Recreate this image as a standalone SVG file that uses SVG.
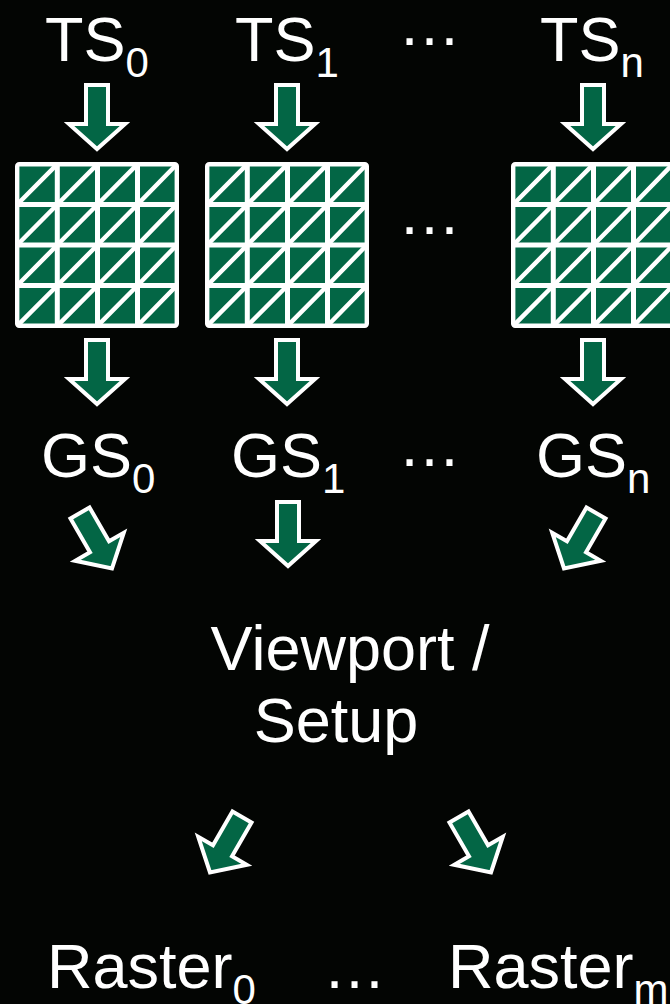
<svg xmlns="http://www.w3.org/2000/svg" xmlns:xlink="http://www.w3.org/1999/xlink" width="670" height="1004" viewBox="0 0 670 1004">
<style>
.t{fill:#ffffff;font-family:"Liberation Sans",Arial,sans-serif;font-size:63px}
.sub{font-size:42px}
.arr{fill:#036645;stroke:#ffffff;stroke-width:4;stroke-linejoin:miter}
.cell{fill:#036645;stroke:#ffffff;stroke-width:4.4}
.gl{fill:none;stroke:#ffffff;stroke-width:5}
.dg{fill:none;stroke:#ffffff;stroke-width:4.5}
</style>
<defs>
<path id="arrow" class="arr" d="M-11,0 H11 V39 H28 L0,64 L-28,39 H-11 Z"/>
<g id="gridShape">
<rect x="2.2" y="2.2" width="159.6" height="161.6" rx="2" fill="#036645"/>
<path class="dg" d="M2.2 42.5 L42.3 2.2 M42.3 42.5 L82.5 2.2 M82.5 42.5 L122.5 2.2 M122.5 42.5 L161.8 2.2 M2.2 83 L42.3 42.5 M42.3 83 L82.5 42.5 M82.5 83 L122.5 42.5 M122.5 83 L161.8 42.5 M2.2 123.5 L42.3 83 M42.3 123.5 L82.5 83 M82.5 123.5 L122.5 83 M122.5 123.5 L161.8 83 M2.2 163.8 L42.3 123.5 M42.3 163.8 L82.5 123.5 M82.5 163.8 L122.5 123.5 M122.5 163.8 L161.8 123.5"/>
<path class="gl" d="M42.3 2 V164 M82.5 2 V164 M122.5 2 V164 M2 42.5 H162 M2 83 H162 M2 123.5 H162"/>
<rect x="2.2" y="2.2" width="159.6" height="161.6" rx="2" fill="none" stroke="#ffffff" stroke-width="4.4"/>
</g>
</defs>
<rect width="670" height="1004" fill="#030503"/>

<g id="ts0"><text class="t" x="45" y="61">TS<tspan class="sub" dy="16">0</tspan></text></g>
<g id="ts1"><text class="t" x="235" y="61">TS<tspan class="sub" dy="16">1</tspan></text></g>
<g id="tsdots"><text class="t" x="398" y="45">…</text></g>
<g id="tsn"><text class="t" x="540" y="61">TS<tspan class="sub" dy="16">n</tspan></text></g>

<g id="grid0"><use xlink:href="#gridShape" transform="translate(15,162)"/></g>
<g id="grid1"><use xlink:href="#gridShape" transform="translate(205,162)"/></g>
<g id="griddots"><text class="t" x="398" y="234">…</text></g>
<g id="gridn"><use xlink:href="#gridShape" transform="translate(511,162)"/></g>

<g id="gs0"><text class="t" x="41" y="477">GS<tspan class="sub" dy="16">0</tspan></text></g>
<g id="gs1"><text class="t" x="231" y="477">GS<tspan class="sub" dy="16">1</tspan></text></g>
<g id="gsdots"><text class="t" x="398" y="466">…</text></g>
<g id="gsn"><text class="t" x="536" y="477">GS<tspan class="sub" dy="16">n</tspan></text></g>

<g id="viewport"><text class="t" x="350" y="670" text-anchor="middle">Viewport /</text><text class="t" x="336" y="742" text-anchor="middle">Setup</text></g>

<g id="raster0"><text class="t" x="47" y="988">Raster<tspan class="sub" dy="16">0</tspan></text></g>
<g id="rasterdots"><text class="t" x="323" y="988">…</text></g>
<g id="rasterm"><text class="t" x="448" y="988">Raster<tspan class="sub" dy="16">m</tspan></text></g>

<g id="connectors">
<use xlink:href="#arrow" transform="translate(97,85)"/>
<use xlink:href="#arrow" transform="translate(287,85)"/>
<use xlink:href="#arrow" transform="translate(593,85)"/>
<use xlink:href="#arrow" transform="translate(97,340)"/>
<use xlink:href="#arrow" transform="translate(287,340)"/>
<use xlink:href="#arrow" transform="translate(593,340)"/>
<use xlink:href="#arrow" transform="translate(80,513) rotate(-30)"/>
<use xlink:href="#arrow" transform="translate(288,502)"/>
<use xlink:href="#arrow" transform="translate(596,513) rotate(30)"/>
<use xlink:href="#arrow" transform="translate(242,817) rotate(30)"/>
<use xlink:href="#arrow" transform="translate(459,817) rotate(-30)"/>
</g>
</svg>
